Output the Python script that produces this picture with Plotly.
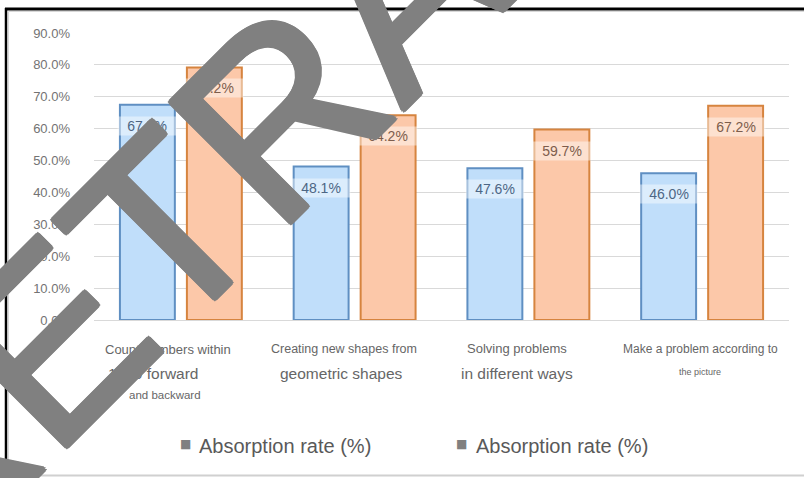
import plotly.graph_objects as go

# Categories and values (percent)
categories = [
    "Count numbers within 1000 forward and backward",
    "Creating new shapes from geometric shapes",
    "Solving problems in different ways",
    "Make a problem according to the picture",
]
series_a = [67.5, 48.1, 47.6, 46.0]
series_b = [79.2, 64.2, 59.7, 67.2]
series_names = ["Absorption rate (%)", "Absorption rate (%)"]

# Axis label lines under each category: (text, size)
label_lines = [
    [("Count numbers within", 13), ("1000 forward", 15.5), ("and backward", 11.5)],
    [("Creating new shapes from", 12.5), ("geometric shapes", 15.5)],
    [("Solving problems", 13), ("in different ways", 15.5)],
    [("Make a problem according to", 12), ("the picture", 9)],
]
y_ticks = [0, 10, 20, 30, 40, 50, 60, 70, 80, 90]
y_tick_text = [f"{v:.1f}%" for v in y_ticks]

FONT = "Liberation Sans, Arial, sans-serif"
W_FIG, H_FIG = 804, 478
L, R, T, B = 94, 789, 33, 320


def px(x):
    return (x - L) / (R - L)


def py(y):
    return (B - y) / (B - T)


fig = go.Figure()
fig.add_trace(go.Bar(
    x=categories, y=series_a, name=series_names[0], showlegend=False,
    marker=dict(color="#c0defa", line=dict(color="#5f8fc2", width=2)),
))
fig.add_trace(go.Bar(
    x=categories, y=series_b, name=series_names[1], showlegend=False,
    marker=dict(color="#fcc8a9", line=dict(color="#d6843f", width=2)),
))

annotations = []
# value labels inside the top of each bar
for vals, shift, col in ((series_a, -33.5, "#4d6684"), (series_b, 33.5, "#7d5d4c")):
    for cat, v in zip(categories, vals):
        annotations.append(dict(
            x=cat, y=v, xref="x", yref="y", xshift=shift, yshift=-21,
            text=f"{v:.1f}%", showarrow=False, width=56, height=16,
            bgcolor="rgba(255,255,255,0.45)",
            font=dict(family=FONT, size=14, color=col),
        ))

# category labels
label_pos = [
    [(168, 349), (153, 373), (165, 395)],
    [(344, 349), (341, 373)],
    [(517, 348), (517, 373)],
    [(700, 349), (700, 372)],
]
for lines, poss in zip(label_lines, label_pos):
    for (txt, size), (lx, ly) in zip(lines, poss):
        annotations.append(dict(
            x=px(lx), y=py(ly), xref="paper", yref="paper", text=txt,
            showarrow=False, xanchor="center", yanchor="middle",
            font=dict(family=FONT, size=size, color="#666666"),
        ))

# legend entries
for name, sx, tx in ((series_names[0], 185.5, 197), (series_names[1], 461, 474)):
    annotations.append(dict(
        x=px(sx), y=py(444), xref="paper", yref="paper", text="■",
        showarrow=False, xanchor="center", yanchor="middle",
        font=dict(family="DejaVu Sans", size=12, color="#808080"),
    ))
    annotations.append(dict(
        x=px(tx), y=py(446), xref="paper", yref="paper", text=name,
        showarrow=False, xanchor="left", yanchor="middle",
        font=dict(family=FONT, size=20, color="#595959"),
    ))

# diagonal watermark
wm_col = "#808080"
thick = ", ".join(f"{dx}px {dy}px 0 {wm_col}" for dx, dy in
                  ((2, 2), (-2, -2), (2, -2), (-2, 2), (2.5, 0), (-2.5, 0), (0, 2.5), (0, -2.5)))
annotations.append(dict(
    x=px(401), y=py(-9), xref="paper", yref="paper", text="RETRACTED",
    showarrow=False, xanchor="center", yanchor="middle", textangle=-45,
    font=dict(family=FONT, size=248, color=wm_col, shadow=thick),
))

shapes = [
    # outer frame
    dict(type="line", xref="paper", yref="paper", x0=px(5), x1=px(804), y0=py(9), y1=py(9),
         line=dict(color="#000000", width=3)),
    dict(type="line", xref="paper", yref="paper", x0=px(6), x1=px(6), y0=py(8), y1=py(478),
         line=dict(color="#000000", width=2.5)),
    dict(type="line", xref="paper", yref="paper", x0=px(8.5), x1=px(804), y0=py(11.5), y1=py(11.5),
         line=dict(color="#d8d8d8", width=1)),
    dict(type="line", xref="paper", yref="paper", x0=px(8.5), x1=px(8.5), y0=py(11.5), y1=py(476),
         line=dict(color="#d8d8d8", width=1)),
    dict(type="line", xref="paper", yref="paper", x0=px(7), x1=px(804), y0=py(475.5), y1=py(475.5),
         line=dict(color="#d0d0d0", width=2)),
]

fig.update_layout(
    width=W_FIG, height=H_FIG,
    margin=dict(l=L, r=W_FIG - R, t=T, b=H_FIG - B, autoexpand=False),
    paper_bgcolor="white", plot_bgcolor="white",
    barmode="group", bargap=0.229, bargroupgap=0.18,
    font=dict(family=FONT),
    showlegend=False,
    annotations=annotations, shapes=shapes,
    xaxis=dict(showticklabels=False, showgrid=False, zeroline=False, showline=False, ticks=""),
    yaxis=dict(
        range=[0, 90], tickvals=y_ticks, ticktext=y_tick_text,
        showgrid=True, gridcolor="#d9d9d9", gridwidth=1,
        zeroline=True, zerolinecolor="#d9d9d9", zerolinewidth=1,
        showline=False, ticks="", ticklabelstandoff=23,
        tickfont=dict(family=FONT, size=13, color="#737373"),
    ),
)

fig.write_html("out.html")
